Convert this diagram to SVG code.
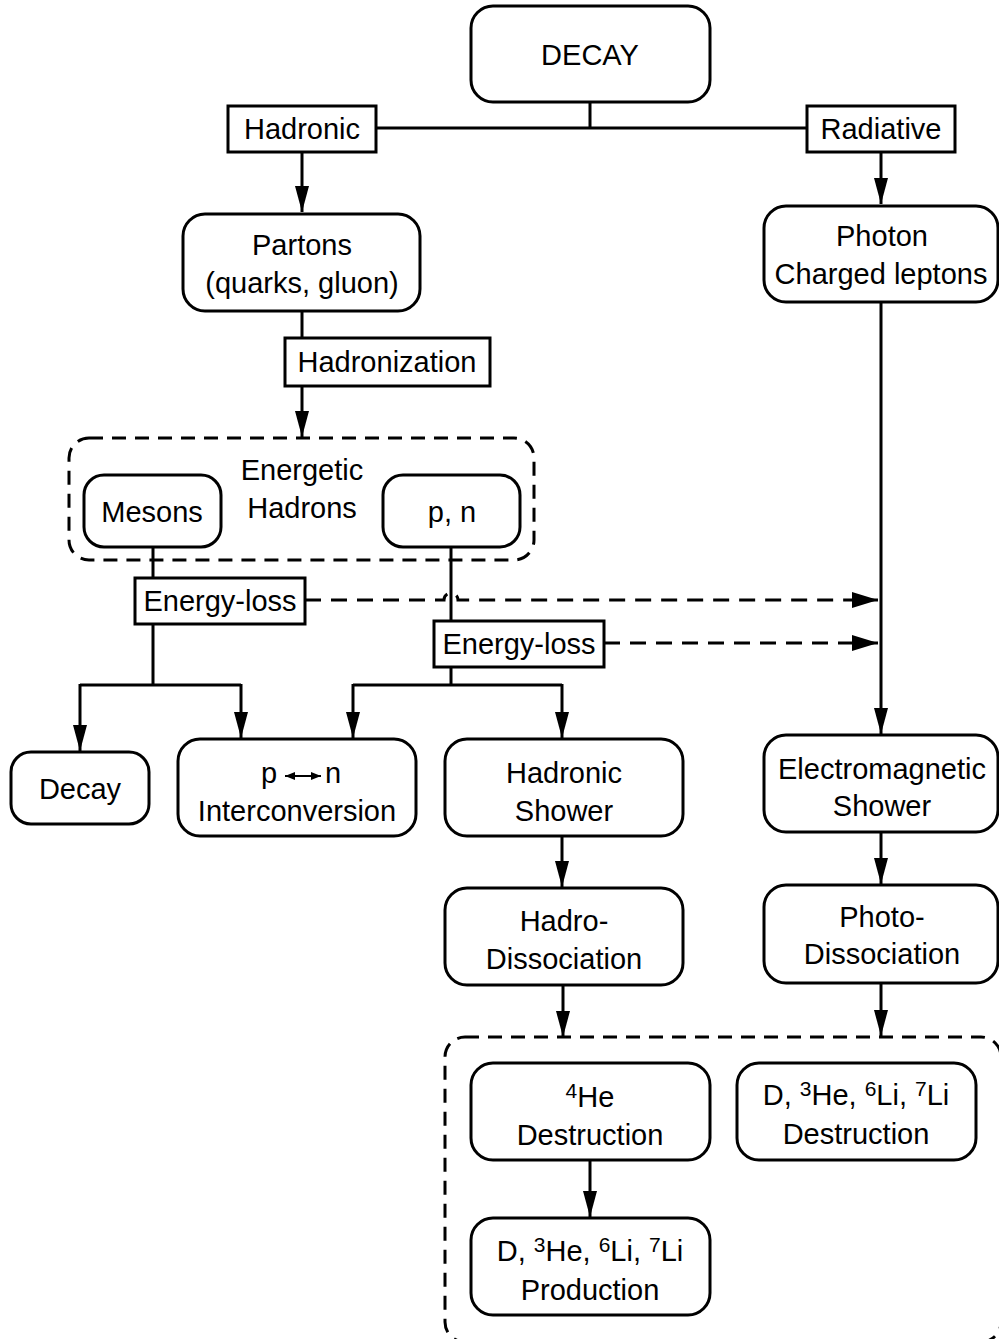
<svg xmlns="http://www.w3.org/2000/svg" width="999" height="1339" viewBox="0 0 999 1339">
<defs>
<style>
.box{fill:#fff;stroke:#000;stroke-width:3}
.dbox{fill:none;stroke:#000;stroke-width:3;stroke-dasharray:14 9}
.ln{fill:none;stroke:#000;stroke-width:3}
.dl{fill:none;stroke:#000;stroke-width:3;stroke-dasharray:16 10}
text{font-family:"Liberation Sans",Arial,sans-serif;font-size:29px;fill:#000;text-anchor:middle}
.sup{font-size:21px}
</style>
<marker id="ah" markerUnits="userSpaceOnUse" markerWidth="26" markerHeight="14" refX="26" refY="7" orient="auto" viewBox="0 0 26 14"><path d="M0,0 L26,7 L0,14 Z" fill="#000"/></marker>
<marker id="ahd" markerUnits="userSpaceOnUse" markerWidth="26" markerHeight="16" refX="26" refY="8" orient="auto" viewBox="0 0 26 16"><path d="M0,0 L26,8 L0,16 Z" fill="#000"/></marker>
<marker id="sm" markerUnits="userSpaceOnUse" markerWidth="10" markerHeight="8" refX="10" refY="4" orient="auto" viewBox="0 0 10 8"><path d="M0,0 L10,4 L0,8 Z" fill="#000"/></marker>
<marker id="sms" markerUnits="userSpaceOnUse" markerWidth="10" markerHeight="8" refX="0" refY="4" orient="auto" viewBox="0 0 10 8"><path d="M10,0 L0,4 L10,8 Z" fill="#000"/></marker>
</defs>
<rect width="999" height="1339" fill="#fff"/>

<g id="connectors">
<path class="ln" d="M590,103 V128 M376,128 H806"/>
<path class="ln" d="M302,153 V212" marker-end="url(#ah)"/>
<path class="ln" d="M881,153 V204" marker-end="url(#ah)"/>
<path class="ln" d="M302,311 V338"/>
<path class="ln" d="M302,387 V437" marker-end="url(#ah)"/>
<path class="ln" d="M881,302 V734" marker-end="url(#ah)"/>
<path class="ln" d="M153,547 V578"/>
<path class="ln" d="M153,624 V685 M80,685 H241"/>
<path class="ln" d="M80,684 V751" marker-end="url(#ah)"/>
<path class="ln" d="M241,684 V738" marker-end="url(#ah)"/>
<path class="ln" d="M451,547 V621"/>
<path class="ln" d="M451,667 V685 M353,685 H562"/>
<path class="ln" d="M353,684 V738" marker-end="url(#ah)"/>
<path class="ln" d="M562,684 V738" marker-end="url(#ah)"/>
<path class="ln" d="M562,837 V887" marker-end="url(#ah)"/>
<path class="ln" d="M881,833 V884" marker-end="url(#ah)"/>
<path class="ln" d="M563,985 V1037" marker-end="url(#ah)"/>
<path class="ln" d="M881,983 V1036" marker-end="url(#ah)"/>
<path class="ln" d="M590,1160 V1217" marker-end="url(#ah)"/>
<path class="dl" d="M305,600 H444 A7,7 0 0 1 458,600 H878" marker-end="url(#ahd)"/>
<path class="dl" d="M604,643 H878" marker-end="url(#ahd)"/>
</g>

<g id="decay"><rect class="box" x="471" y="6" width="239" height="96" rx="22"/><text x="590" y="65">DECAY</text></g>
<g id="hadronic"><rect class="box" x="228" y="106" width="148" height="46"/><text x="302" y="139">Hadronic</text></g>
<g id="radiative"><rect class="box" x="807" y="106" width="148" height="46"/><text x="881" y="139">Radiative</text></g>
<g id="partons"><rect class="box" x="183" y="214" width="237" height="97" rx="22"/><text x="302" y="255">Partons</text><text x="302" y="293">(quarks, gluon)</text></g>
<g id="photon"><rect class="box" x="764" y="206" width="234" height="96" rx="22"/><text x="882" y="246">Photon</text><text x="881" y="284">Charged leptons</text></g>
<g id="hadronization"><rect class="box" x="285" y="338" width="205" height="48"/><text x="387" y="372">Hadronization</text></g>
<g id="energetic-hadrons"><rect class="dbox" x="69" y="438" width="465" height="122" rx="20"/><text x="302" y="480">Energetic</text><text x="302" y="518">Hadrons</text></g>
<g id="mesons"><rect class="box" x="84" y="475" width="137" height="72" rx="20"/><text x="152" y="522">Mesons</text></g>
<g id="pn"><rect class="box" x="383" y="475" width="137" height="72" rx="20"/><text x="452" y="522">p, n</text></g>
<g id="energyloss1"><rect class="box" x="135" y="578" width="170" height="46"/><text x="220" y="611">Energy-loss</text></g>
<g id="energyloss2"><rect class="box" x="434" y="621" width="170" height="46"/><text x="519" y="654">Energy-loss</text></g>
<g id="decay2"><rect class="box" x="11" y="752" width="138" height="72" rx="20"/><text x="80" y="799">Decay</text></g>
<g id="interconversion"><rect class="box" x="178" y="739" width="238" height="97" rx="22"/><text x="269" y="783">p</text><path d="M285,776 H321" stroke="#000" stroke-width="2" marker-start="url(#sms)" marker-end="url(#sm)"/><text x="333" y="783">n</text><text x="297" y="821">Interconversion</text></g>
<g id="hadronic-shower"><rect class="box" x="445" y="739" width="238" height="97" rx="22"/><text x="564" y="783">Hadronic</text><text x="564" y="821">Shower</text></g>
<g id="em-shower"><rect class="box" x="764" y="735" width="234" height="97" rx="22"/><text x="882" y="779">Electromagnetic</text><text x="882" y="816">Shower</text></g>
<g id="hadro-dissociation"><rect class="box" x="445" y="888" width="238" height="97" rx="22"/><text x="564" y="931">Hadro-</text><text x="564" y="969">Dissociation</text></g>
<g id="photo-dissociation"><rect class="box" x="764" y="885" width="234" height="98" rx="22"/><text x="882" y="927">Photo-</text><text x="882" y="964">Dissociation</text></g>
<g id="nucleo-group"><rect class="dbox" x="445" y="1037" width="556" height="305" rx="20"/></g>
<g id="he4-destruction"><rect class="box" x="471" y="1063" width="239" height="97" rx="22"/><text x="590" y="1107"><tspan class="sup" dy="-9">4</tspan><tspan dy="9">He</tspan></text><text x="590" y="1145">Destruction</text></g>
<g id="light-destruction"><rect class="box" x="737" y="1063" width="239" height="97" rx="22"/><text x="856" y="1105">D, <tspan class="sup" dy="-9">3</tspan><tspan dy="9">He, </tspan><tspan class="sup" dy="-9">6</tspan><tspan dy="9">Li, </tspan><tspan class="sup" dy="-9">7</tspan><tspan dy="9">Li</tspan></text><text x="856" y="1144">Destruction</text></g>
<g id="light-production"><rect class="box" x="471" y="1218" width="239" height="97" rx="22"/><text x="590" y="1261">D, <tspan class="sup" dy="-9">3</tspan><tspan dy="9">He, </tspan><tspan class="sup" dy="-9">6</tspan><tspan dy="9">Li, </tspan><tspan class="sup" dy="-9">7</tspan><tspan dy="9">Li</tspan></text><text x="590" y="1300">Production</text></g>
</svg>
